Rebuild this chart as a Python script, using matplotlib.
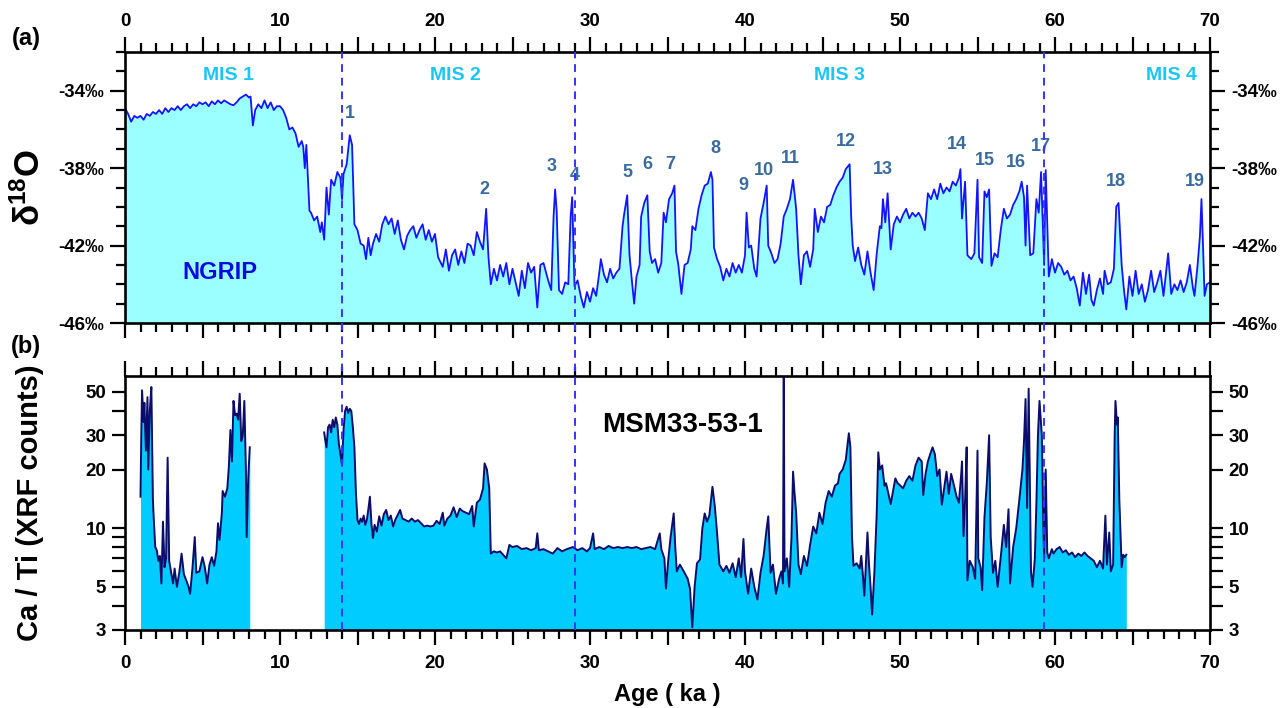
import numpy as np
import matplotlib
matplotlib.use('Agg')
import matplotlib.pyplot as plt
from matplotlib.ticker import MultipleLocator, FixedLocator, FuncFormatter, NullFormatter
from matplotlib.lines import Line2D
import matplotlib.transforms as mtransforms

plt.rcParams['font.family'] = ['Liberation Sans', 'DejaVu Sans']
plt.rcParams['font.weight'] = 'bold'
plt.rcParams['axes.labelweight'] = 'bold'
plt.rcParams['mathtext.fontset'] = 'custom'
plt.rcParams['mathtext.rm'] = 'Liberation Sans'
plt.rcParams['mathtext.bf'] = 'Liberation Sans:bold'
plt.rcParams['mathtext.it'] = 'Liberation Sans:italic'
plt.rcParams['mathtext.default'] = 'rm'

# ---------------- DATA ----------------
# NGRIP d18O (permil) vs age (ka)
ngrip_mis1 = [(0.0,-34.9),(0.2,-35.2),(0.4,-35.6),(0.6,-35.3),(0.8,-35.4),(1.0,-35.3),(1.2,-35.5),(1.4,-35.2),
    (1.6,-35.3),(1.8,-35.1),(2.0,-35.2),(2.2,-35.0),(2.4,-35.2),(2.6,-34.9),(2.8,-35.1),(3.0,-34.9),(3.2,-35.0),
    (3.4,-34.8),(3.6,-35.0),(3.8,-34.8),(4.0,-34.7),(4.2,-34.9),(4.4,-34.7),(4.6,-34.8),(4.8,-34.6),(5.0,-34.7),
    (5.2,-34.6),(5.4,-34.8),(5.6,-34.55),(5.8,-34.7),(6.0,-34.5),(6.2,-34.65),(6.4,-34.5),(6.6,-34.6),(6.8,-34.7),
    (7.0,-34.75),(7.2,-34.6),(7.4,-34.4),(7.6,-34.3),(7.8,-34.2),(8.0,-34.35),(8.1,-34.3),(8.25,-35.8),(8.4,-35.0),
    (8.6,-34.7),(8.8,-34.9),(9.0,-34.5),(9.2,-34.9),(9.4,-34.6),(9.6,-35.0),(9.8,-34.8),(10.0,-34.8),(10.2,-35.0),
    (10.4,-35.4),(10.6,-36.0),(10.8,-35.9),(11.0,-36.2),(11.2,-36.9),(11.4,-36.6),(11.5,-36.9),(11.6,-38.0),
    (11.7,-36.8),(11.8,-38.5),(11.9,-40.2),(12.0,-40.3),(12.2,-40.7),(12.4,-40.5),(12.6,-41.3),(12.7,-40.8),
    (12.85,-41.7),(13.0,-39.0),(13.15,-40.4),(13.3,-38.6),(13.5,-38.9),(13.7,-38.2),(13.9,-38.5),(14.0,-39.6)]
ngrip_mis2 = [(14.1,-38.3),(14.3,-37.8),(14.5,-36.3),(14.65,-36.8),(14.8,-40.9),(15.0,-41.2),(15.2,-41.9),
    (15.4,-42.0),(15.55,-42.7),(15.7,-41.6),(15.85,-42.5),(16.0,-41.9),(16.2,-41.4),(16.4,-41.8),(16.6,-40.9),
    (16.8,-40.5),(17.0,-40.9),(17.2,-40.6),(17.4,-41.4),(17.6,-40.7),(17.8,-41.7),(18.0,-42.2),(18.2,-41.5),
    (18.4,-41.2),(18.6,-41.0),(18.8,-41.6),(19.0,-41.2),(19.2,-40.9),(19.4,-41.7),(19.6,-41.2),(19.8,-41.8),
    (20.0,-41.4),(20.2,-42.6),(20.5,-43.1),(20.7,-42.2),(20.9,-43.3),(21.1,-42.5),(21.3,-42.2),(21.5,-43.0),
    (21.7,-42.3),(21.9,-42.9),(22.1,-41.9),(22.3,-42.0),(22.5,-42.5),(22.7,-41.3),(22.9,-41.8),(23.1,-42.2),
    (23.3,-40.1),(23.45,-42.6),(23.6,-44.0),(23.8,-43.2),(24.0,-43.8),(24.2,-43.0),(24.4,-43.6),(24.6,-42.9),
    (24.8,-44.0),(25.0,-43.2),(25.2,-43.9),(25.4,-44.6),(25.6,-43.3),(25.8,-44.2),(26.0,-42.9),(26.2,-43.4),
    (26.4,-43.1),(26.6,-45.2),(26.8,-43.0),(27.0,-42.9),(27.3,-43.8),(27.5,-44.3),(27.65,-40.5),(27.75,-39.1),
    (27.85,-40.2),(28.0,-44.3),(28.2,-44.5),(28.4,-43.9),(28.6,-44.0),(28.75,-40.5),(28.85,-39.5),(29.0,-44.1)]
ngrip_mis3 = [(29.2,-43.8),(29.4,-44.6),(29.6,-45.2),(29.8,-44.4),(30.0,-44.9),(30.2,-44.2),(30.4,-44.6),
    (30.6,-43.4),(30.7,-42.7),(30.9,-43.5),(31.1,-43.9),(31.3,-43.2),(31.5,-43.7),(31.7,-43.4),(31.9,-43.2),
    (32.1,-41.0),(32.2,-40.4),(32.4,-39.4),(32.55,-42.5),(32.7,-43.8),(32.85,-45.0),(33.0,-43.6),(33.2,-43.0),
    (33.3,-40.5),(33.5,-39.8),(33.7,-39.4),(33.85,-42.3),(34.0,-42.9),(34.2,-42.7),(34.4,-43.4),(34.6,-42.9),
    (34.75,-40.3),(34.9,-40.8),(35.1,-39.6),(35.3,-39.3),(35.45,-38.9),(35.55,-42.3),(35.7,-43.0),(35.9,-44.5),
    (36.1,-43.0),(36.3,-42.9),(36.5,-42.2),(36.6,-41.0),(36.8,-41.2),(37.0,-40.1),(37.2,-39.4),(37.4,-38.9),
    (37.6,-38.8),(37.8,-38.2),(37.9,-38.6),(38.0,-42.1),(38.2,-42.7),(38.4,-43.1),(38.6,-43.8),(38.8,-43.2),
    (39.0,-43.6),(39.2,-42.9),(39.4,-43.4),(39.6,-43.0),(39.8,-43.4),(40.0,-42.5),(40.1,-40.3),(40.25,-42.1),
    (40.4,-42.0),(40.6,-43.2),(40.75,-43.6),(40.9,-41.8),(41.0,-40.6),(41.2,-39.8),(41.4,-38.9),(41.5,-42.0),
    (41.7,-42.4),(41.9,-42.9),(42.1,-42.7),(42.3,-41.9),(42.5,-40.5),(42.7,-40.1),(42.9,-39.6),(43.1,-38.6),
    (43.3,-40.1),(43.45,-42.5),(43.6,-44.0),(43.8,-42.5),(44.0,-42.3),(44.2,-43.1),(44.4,-42.2),(44.5,-40.1),
    (44.7,-41.3),(44.9,-40.5),(45.1,-40.8),(45.3,-40.0),(45.5,-39.9),(45.7,-39.4),(45.9,-39.0),(46.1,-38.7),
    (46.3,-38.5),(46.5,-38.05),(46.75,-37.8),(46.85,-40.5),(46.95,-42.0),(47.1,-42.8),(47.3,-42.1),(47.5,-43.0),
    (47.7,-43.5),(47.9,-42.3),(48.1,-43.4),(48.3,-44.3),(48.5,-42.4),(48.7,-41.0),(48.8,-41.1),(48.9,-39.6),
    (49.05,-40.8),(49.2,-39.3),(49.4,-42.2),(49.6,-40.9),(49.8,-40.5),(50.0,-40.8),(50.2,-40.4),(50.4,-40.1),
    (50.6,-40.6),(50.8,-40.3),(51.0,-40.5),(51.2,-40.3),(51.4,-40.6),(51.6,-41.2),(51.8,-39.3),(52.0,-39.6),
    (52.2,-39.1),(52.4,-39.6),(52.6,-38.8),(52.8,-39.3),(53.0,-39.0),(53.2,-39.2),(53.4,-38.7),(53.6,-38.9),
    (53.8,-38.5),(53.9,-38.05),(54.0,-40.6),(54.2,-38.7),(54.35,-42.5),(54.6,-42.7),(54.8,-42.4),(54.95,-39.5),
    (55.0,-38.6),(55.1,-42.6),(55.3,-42.9),(55.45,-39.2),(55.6,-39.5),(55.75,-39.1),(55.9,-43.05),(56.1,-42.4),
    (56.3,-42.6),(56.5,-41.2),(56.7,-40.1),(56.9,-40.6),(57.1,-40.4),(57.3,-39.9),(57.5,-39.6),(57.7,-39.2),
    (57.85,-38.7),(58.0,-39.5),(58.1,-42.0),(58.2,-38.9),(58.4,-42.5),(58.6,-42.4),(58.8,-39.6),(58.95,-40.3),
    (59.1,-38.2),(59.3,-43.0)]
ngrip_mis4 = [(59.4,-38.1),(59.6,-43.6),(59.8,-42.7),(60.0,-43.4),(60.2,-42.9),(60.4,-43.1),(60.6,-43.5),
    (60.8,-43.3),(61.0,-43.8),(61.2,-43.6),(61.4,-44.2),(61.6,-45.1),(61.8,-43.4),(62.0,-44.5),(62.2,-43.5),
    (62.35,-44.8),(62.5,-45.1),(62.7,-44.3),(62.9,-43.7),(63.1,-44.5),(63.2,-43.3),(63.4,-44.0),(63.6,-43.9),
    (63.8,-43.2),(63.95,-40.0),(64.1,-39.8),(64.3,-43.0),(64.45,-44.3),(64.6,-45.3),(64.8,-43.6),(65.0,-44.6),
    (65.2,-43.3),(65.4,-44.5),(65.6,-44.0),(65.8,-44.9),(66.0,-44.3),(66.2,-43.3),(66.4,-44.4),(66.6,-43.9),
    (66.8,-43.3),(67.0,-44.6),(67.3,-42.4),(67.5,-44.5),(67.7,-44.0),(67.9,-44.3),(68.1,-43.8),(68.3,-44.4),
    (68.5,-43.9),(68.7,-43.0),(68.9,-44.2),(69.0,-44.6),(69.2,-43.0),(69.35,-41.5),(69.45,-39.6),(69.55,-42.0),
    (69.65,-44.6),(69.8,-44.0),(70.0,-43.9)]

# MSM33-53-1 Ca/Ti (XRF counts) vs age (ka)
msm_holocene = [(1.0,14.5),(1.05,30),(1.1,51),(1.2,35),(1.25,44),(1.35,25),(1.45,47),(1.5,20),(1.6,40),
    (1.7,53),(1.8,14),(1.85,11.4),(1.95,8.0),(2.05,7.7),(2.15,6.8),(2.25,7.2),(2.35,5.2),(2.45,10.8),(2.55,6.3),
    (2.65,7.0),(2.75,23),(2.85,6.8),(2.95,6.1),(3.1,5.2),(3.2,6.2),(3.35,5.0),(3.5,5.9),(3.65,7.4),(3.8,5.8),
    (3.95,5.4),(4.1,5.0),(4.2,4.6),(4.35,6.2),(4.5,9.0),(4.6,5.9),(4.8,6.0),(5.0,7.1),(5.15,6.3),(5.3,5.2),
    (5.45,6.5),(5.6,7.1),(5.75,6.4),(5.9,7.6),(6.0,10.6),(6.1,8.7),(6.25,12),(6.3,15.5),(6.45,14.5),(6.6,16),
    (6.7,20.6),(6.8,31.9),(6.9,22),(7.0,45),(7.1,38),(7.2,38.7),(7.3,36),(7.4,49),(7.5,28),(7.6,30),(7.7,45),
    (7.8,20),(7.85,9.0),(7.95,18),(8.05,26)]
msm_mis2 = [(12.85,31),(12.9,29),(13.0,26),(13.1,33),(13.2,34),(13.3,31),(13.4,36),(13.5,33),(13.6,37),
    (13.7,34),(13.8,27),(13.9,24),(14.0,21),(14.1,32),(14.2,40),(14.3,42),(14.4,39),(14.5,41),(14.6,40),
    (14.7,33),(14.8,26),(14.9,15),(15.0,11),(15.1,10.5),(15.2,11.2),(15.3,10.8),(15.4,11.6),(15.5,10.4),
    (15.6,11.0),(15.7,12.5),(15.8,14.5),(15.9,10.5),(16.0,8.9),(16.1,10.4),(16.25,9.6),(16.4,11.5),(16.55,10.3),
    (16.7,11.8),(16.85,12.4),(17.0,11.0),(17.15,11.6),(17.3,10.2),(17.45,11.1),(17.6,11.7),(17.75,12.4),
    (17.9,11.2),(18.1,11.0),(18.3,10.8),(18.5,11.2),(18.7,10.8),(18.9,11.0),(19.1,10.6),(19.3,10.2),(19.5,10.3),
    (19.7,10.2),(19.9,10.3),(20.1,10.9),(20.3,10.5),(20.5,12.0),(20.6,10.3),(20.8,11.2),(21.0,11.6),(21.2,12.8),
    (21.4,11.4),(21.6,12.6),(21.8,12.2),(22.0,12.0),(22.2,11.8),(22.4,13.0),(22.5,10.2),(22.7,13.5),(22.9,14.0),
    (23.1,16),(23.2,21.5),(23.35,20),(23.5,16),(23.6,7.4),(23.8,7.6),(24.0,7.5),(24.2,7.6),(24.4,7.3),(24.6,7.0),
    (24.8,8.2),(25.0,8.0),(25.3,8.1),(25.6,7.8),(25.9,7.9),(26.2,7.7),(26.5,7.9),(26.6,9.4),(26.7,7.7),(27.0,7.8),
    (27.3,7.6),(27.6,7.4),(27.9,7.9),(28.2,7.6),(28.5,7.8),(28.9,8.0)]
msm_mis3 = [(29.2,7.7),(29.5,7.9),(29.8,7.6),(30.0,7.9),(30.2,9.4),(30.3,7.8),(30.6,8.0),(30.9,7.8),(31.2,8.1),
    (31.5,7.9),(31.8,8.0),(32.1,7.9),(32.4,8.0),(32.7,7.9),(33.0,8.0),(33.3,7.8),(33.6,7.9),(33.9,8.0),(34.2,7.8),
    (34.5,9.4),(34.6,7.8),(34.8,7.0),(34.9,4.9),(35.05,6.9),(35.2,9.0),(35.4,11.9),(35.5,8.0),(35.6,6.0),(35.8,6.5),
    (36.0,6.1),(36.1,5.9),(36.3,5.5),(36.45,4.9),(36.6,3.1),(36.75,5.0),(36.9,6.6),(37.1,6.9),(37.25,10),(37.4,11.9),
    (37.55,10.8),(37.7,11.6),(37.9,16.3),(38.05,13),(38.2,9.4),(38.35,6.5),(38.6,6.0),(38.8,6.4),(39.0,5.9),
    (39.2,6.6),(39.4,5.6),(39.6,7.0),(39.75,5.6),(39.9,8.8),(40.0,6.0),(40.2,4.6),(40.4,6.2),(40.6,5.0),(40.8,4.3),
    (41.0,5.9),(41.2,7.2),(41.4,10.0),(41.5,11.5),(41.65,5.9),(41.8,6.5),(42.0,4.6),(42.2,5.5),(42.35,6.0),
    (42.45,5.2),(42.5,70),(42.55,6.0),(42.7,7.0),(42.85,5.0),(43.0,9.0),(43.1,19.5),(43.2,15.0),(43.3,12.0),
    (43.45,6.5),(43.6,5.8),(43.8,7.2),(44.0,6.4),(44.2,8.2),(44.4,10.2),(44.6,9.4),(44.8,12),(45.0,10.5),
    (45.2,13.5),(45.4,15.5),(45.6,14.5),(45.8,16.5),(46.0,17),(46.1,19),(46.3,20),(46.5,22.4),(46.7,30.7),
    (46.8,26),(46.9,9.1),(47.0,6.4),(47.2,6.6),(47.4,6.2),(47.5,7.2),(47.6,5.8),(47.7,4.5),(47.9,9.5),(48.0,6.5),
    (48.1,5.0),(48.2,3.6),(48.35,6.0),(48.5,12),(48.6,24.5),(48.7,20),(48.85,21),(49.0,16.5),(49.1,17),
    (49.25,15),(49.4,13.3),(49.55,15.5),(49.7,18),(49.85,17),(50.0,16.6),(50.2,16),(50.4,17.5),(50.6,18.5),
    (50.8,17.5),(51.0,21),(51.2,23),(51.4,22),(51.5,14.8),(51.65,19),(51.8,22),(51.95,24),(52.1,26),(52.25,24),
    (52.4,18.5),(52.55,20),(52.7,13.2),(52.85,16),(53.0,19.5),(53.15,15),(53.3,19),(53.45,17),(53.65,14.5),
    (53.8,13.5),(53.95,19),(54.0,22),(54.1,9.1),(54.2,14),(54.3,26),(54.35,5.4),(54.5,6.8),(54.7,6.3),
    (54.85,5.5),(55.0,25),(55.05,7.0),(55.2,6.3),(55.3,4.8),(55.45,11.4),(55.6,17),(55.75,30),(55.85,9),
    (56.0,5.9),(56.15,6.8),(56.3,5.0),(56.5,7.1),(56.7,10.4),(56.85,8.0),(57.0,12.5),(57.1,5.2),(57.3,8.0),
    (57.5,10.0),(57.7,14),(57.9,20),(58.0,28),(58.1,46),(58.2,12.7),(58.3,52),(58.45,6.0),(58.55,5.0),
    (58.7,7.0),(58.8,13.5),(58.9,30),(59.0,45),(59.15,30),(59.25,10),(59.3,7.0)]
msm_mis4 = [(59.4,20),(59.5,7.5),(59.6,7.0),(59.8,7.8),(59.9,7.4),(60.1,7.8),(60.3,8.0),(60.5,7.5),(60.7,7.7),
    (60.9,7.3),(61.1,7.5),(61.3,7.1),(61.5,7.4),(61.7,7.2),(61.9,7.5),(62.1,7.2),(62.3,7.0),(62.5,6.8),
    (62.7,6.3),(62.9,6.8),(63.1,6.2),(63.25,11.6),(63.35,6.5),(63.5,9.5),(63.6,6.0),(63.75,6.5),(63.85,30),
    (63.9,45),(64.0,34),(64.05,37),(64.15,14),(64.3,6.3),(64.4,7.3),(64.5,7.1),(64.6,7.3)]

# Dansgaard-Oeschger event labels (number, age ka, d18O position)
do_numbers = ['1','2','3','4','5','6','7','8','9','10','11','12','13','14','15','16','17','18','19']
do_ages = [14.5, 23.2, 27.5, 29.0, 32.4, 33.7, 35.2, 38.1, 39.9, 41.2, 42.9, 46.5, 48.9, 53.7, 55.5, 57.5, 59.1, 63.9, 69.0]
do_d18o = [-35.2, -39.1, -37.9, -38.4, -38.2, -37.8, -37.8, -37.0, -38.9, -38.1, -37.5, -36.6, -38.05, -36.8, -37.6, -37.7, -36.9, -38.7, -38.7]

# Marine isotope stages
mis_names = ['MIS 1', 'MIS 2', 'MIS 3', 'MIS 4']
mis_label_ages = [6.65, 21.3, 46.1, 67.5]
mis_boundaries = [14.0, 29.0, 59.3]

x_major_ticks = 5
d18o_ticks = [-46, -42, -38, -34]
cati_ticks = [3, 5, 10, 20, 30, 50]
cati_minor = [4, 6, 7, 8, 9, 40]

# ---------------- PLOT ----------------
W, H = 1285, 708
fig = plt.figure(figsize=(W / 100, H / 100), dpi=100)
ax1 = fig.add_axes([125 / W, 1 - 323 / H, 1085 / W, 271 / H])
ax2 = fig.add_axes([125 / W, 1 - 630 / H, 1085 / W, 254 / H])

ngrip = np.array(ngrip_mis1 + ngrip_mis2 + ngrip_mis3 + ngrip_mis4)
ax1.fill_between(ngrip[:, 0], ngrip[:, 1], -50, color='#9BFFFF', lw=0, zorder=1)
ax1.plot(ngrip[:, 0], ngrip[:, 1], color='#1414FF', lw=1.3, zorder=2)
ax1.set_xlim(0, 70)
ax1.set_ylim(-46, -32)

for seg in (msm_holocene, msm_mis2 + msm_mis3 + msm_mis4):
    arr = np.array(seg)
    ax2.fill_between(arr[:, 0], arr[:, 1], 1, color='#00CCFF', lw=0, zorder=1)
    ax2.plot(arr[:, 0], arr[:, 1], color='#0C0C6A', lw=1.4, zorder=2)
ax2.set_yscale('log')
ax2.set_xlim(0, 70)
ax2.set_ylim(3, 60.4)

xfmt = FuncFormatter(lambda v, p: f"{int(round(v))}" if int(round(v)) % 10 == 0 else "")
for ax in (ax1, ax2):
    for s in ax.spines.values():
        s.set_linewidth(1.9)
    ax.xaxis.set_major_locator(MultipleLocator(x_major_ticks))
    ax.xaxis.set_minor_locator(MultipleLocator(1))
    ax.xaxis.set_major_formatter(xfmt)
    ax.tick_params(which='major', direction='out', length=11, width=1.6, labelsize=13.5, pad=5)
    ax.tick_params(which='minor', direction='out', length=6.5, width=1.6)
    ax.tick_params(axis='x', which='both', top=True, bottom=True)
    ax.tick_params(axis='y', which='both', left=True, right=True, labelleft=True, labelright=True, pad=4)

ax1.tick_params(axis='x', labeltop=True, labelbottom=False)
ax2.tick_params(axis='x', labeltop=False, labelbottom=True, pad=7)

ax1.yaxis.set_major_locator(FixedLocator(d18o_ticks))
ax1.yaxis.set_minor_locator(MultipleLocator(1))
ax1.yaxis.set_major_formatter(FuncFormatter(lambda v, p: f"{int(round(v))}\u2030"))

ax2.yaxis.set_major_locator(FixedLocator(cati_ticks))
ax2.yaxis.set_minor_locator(FixedLocator(cati_minor))
ax2.yaxis.set_major_formatter(FuncFormatter(lambda v, p: f"{v:g}"))
ax2.yaxis.set_minor_formatter(NullFormatter())
ax2.tick_params(axis='y', which='minor', length=9.5)
ax2.tick_params(axis='y', which='major', length=9.5)

# labels
ax1.set_ylabel(r'$\mathrm{\delta}^{\mathrm{18}}\mathbf{O}$', fontsize=25)
ax2.set_ylabel('Ca / Ti (XRF counts)', fontsize=21)
for ax in (ax1, ax2):
    ax.yaxis.label.set_va('center')
    ax.yaxis.set_label_coords((30 - 125) / 1085, 0.5)
ax2.set_xlabel('Age ( ka )', fontsize=17)
ax2.xaxis.label.set_va('center')
ax2.xaxis.set_label_coords(0.5, (630 - 695) / 254)

fig.text(26 / W, 1 - 39 / H, '(a)', fontsize=17, ha='center', va='center')
fig.text(26 / W, 1 - 347 / H, '(b)', fontsize=17, ha='center', va='center')

# annotations
for name, a in zip(mis_names, mis_label_ages):
    ax1.text(a, -33.2, name, color='#1CC6F2', fontsize=14, ha='center', va='center', zorder=5)
for n, a, y in zip(do_numbers, do_ages, do_d18o):
    ax1.text(a, y, n, color='#3A6B9E', fontsize=13, ha='center', va='center', zorder=5)
ax1.text(6.1, -43.4, 'NGRIP', color='#0A0ADC', fontsize=17, ha='center', va='center', zorder=5)
ax2.text(36.0, 33.8, 'MSM33-53-1', color='black', fontsize=20, ha='center', va='center', zorder=5)

# MIS boundaries spanning both panels
trans = mtransforms.blended_transform_factory(ax1.transData, fig.transFigure)
for b in mis_boundaries:
    fig.lines.append(Line2D([b, b], [1 - 630 / H, 1 - 52 / H], transform=trans, color='#3535FF',
                            lw=1.4, ls=(0, (4, 3)), zorder=10))

fig.savefig('out.png', dpi=100, facecolor='white')
